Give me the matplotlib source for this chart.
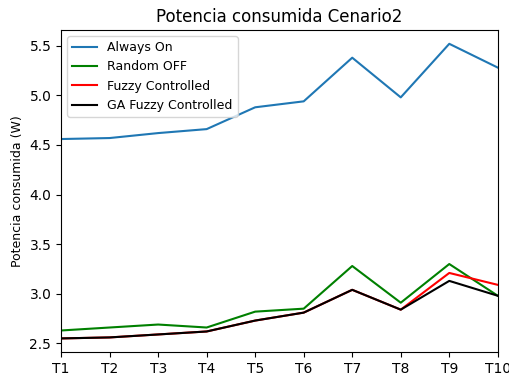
import matplotlib
matplotlib.use("Agg")
import matplotlib.pyplot as plt

# 데이터
labels = ["T1", "T2", "T3", "T4", "T5", "T6", "T7", "T8", "T9", "T10"]
always_on = [4.56, 4.57, 4.62, 4.66, 4.88, 4.94, 5.38, 4.98, 5.52, 5.28]
random_off = [2.63, 2.66, 2.69, 2.66, 2.82, 2.85, 3.28, 2.91, 3.30, 2.98]
fuzzy = [2.55, 2.56, 2.59, 2.62, 2.73, 2.81, 3.04, 2.84, 3.21, 3.09]
ga_fuzzy = [2.55, 2.56, 2.59, 2.62, 2.73, 2.81, 3.04, 2.84, 3.13, 2.98]

fig = plt.figure(figsize=(5.09, 3.74), dpi=100)
ax = fig.add_axes([0.12, 0.058, 0.858, 0.862])

x = range(len(labels))
ax.plot(x, always_on, color="#1f77b4", label="Always On")
ax.plot(x, random_off, color="green", label="Random OFF")
ax.plot(x, fuzzy, color="red", label="Fuzzy Controlled")
ax.plot(x, ga_fuzzy, color="black", label="GA Fuzzy Controlled")

ax.set_xticks(list(x))
ax.set_xticklabels(labels)
ax.set_xlim(0, len(labels) - 1)
ax.set_ylim(2.41, 5.66)
ax.set_ylabel("Potencia consumida (W)", fontsize=9)
ax.set_title("Potencia consumida Cenario2")
ax.legend(loc="upper left", fontsize=9)

fig.savefig("out.png", dpi=100)
